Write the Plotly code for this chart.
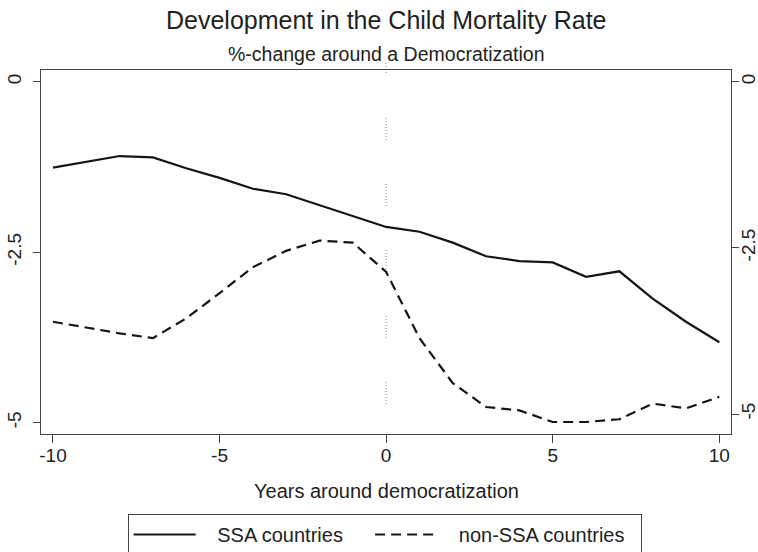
import plotly.graph_objects as go

# ---- data ----
years = list(range(-10, 11))
ssa = [-1.26, -1.17, -1.09, -1.11, -1.27, -1.41, -1.57, -1.65, -1.81, -1.98, -2.13,
       -2.20, -2.36, -2.56, -2.63, -2.65, -2.86, -2.78, -3.18, -3.52, -3.82]
non_ssa = [-3.52, -3.61, -3.69, -3.76, -3.47, -3.10, -2.72, -2.48, -2.33, -2.36, -2.79,
           -3.76, -4.42, -4.77, -4.82, -4.99, -4.99, -4.95, -4.72, -4.79, -4.62]
series_names = ["SSA countries", "non-SSA countries"]
x_ticks = [-10, -5, 0, 5, 10]
x_ticklabels = ["-10", "-5", "0", "5", "10"]
y_ticks = [0, -2.5, -5]
y_ticklabels = ["0", "-2.5", "-5"]
title_text = "Development in the Child Mortality Rate"
subtitle_text = "%-change around a Democratization"
x_title = "Years around democratization"

FONT = "Liberation Sans, Arial, Helvetica, sans-serif"
TXT = "#222222"
FRAME = "#454545"
NB = "\u00a0"

fig = go.Figure()
fig.add_trace(go.Scatter(x=years, y=ssa, mode="lines",
                         name=NB * 3 + series_names[0] + NB * 4,
                         line=dict(color="#151515", width=2.2)))
fig.add_trace(go.Scatter(x=years, y=non_ssa, mode="lines",
                         name=NB * 3 + series_names[1] + NB * 2,
                         line=dict(color="#151515", width=2.2, dash="10px,6px")))
# invisible trace so the right-hand (second) y axis is drawn
fig.add_trace(go.Scatter(x=years, y=ssa, mode="lines", yaxis="y2", showlegend=False,
                         hoverinfo="skip", line=dict(color="rgba(0,0,0,0)", width=0)))

# vertical dotted reference line at year 0
seg_first = ",".join(["1px,2px"] * 3) + ",1px,45px"
seg = ",".join(["1px,2px"] * 7) + ",1px,44px"
dash_pattern = seg_first + "," + ",".join([seg] * 6)
fig.add_shape(type="line", xref="x", yref="paper", x0=0, x1=0, y0=1.0192, y1=0,
              line=dict(color="#8a8a8a", width=1, dash=dash_pattern), layer="below")

fig.update_layout(
    width=758, height=552,
    margin=dict(l=41, r=27, t=70, b=118, autoexpand=False),
    paper_bgcolor="white", plot_bgcolor="white",
    font=dict(family=FONT, size=19, color=TXT),
    showlegend=True,
    legend=dict(orientation="h", x=0.1255, xanchor="left", y=-0.2198, yanchor="top",
                bordercolor=FRAME, borderwidth=1, bgcolor="white",
                font=dict(family=FONT, size=20, color=TXT),
                itemwidth=62),
    xaxis=dict(range=[-10.36, 10.351], tickvals=x_ticks, ticktext=x_ticklabels,
               ticks="outside", ticklen=8, ticklabelstandoff=-4,
               tickwidth=1.3, tickcolor=FRAME, showline=True, linecolor=FRAME, linewidth=1.3,
               mirror=True, showgrid=False, zeroline=False,
               tickfont=dict(family=FONT, size=19, color=TXT)),
    yaxis=dict(range=[-5.166, 0.1716], tickvals=y_ticks, ticktext=y_ticklabels,
               ticks="outside", ticklen=7, tickwidth=1.3, tickcolor=FRAME, ticklabelstandoff=4,
               showline=True, linecolor=FRAME, linewidth=1.3, showgrid=False, zeroline=False,
               tickangle=-90, tickfont=dict(family=FONT, size=19, color=TXT)),
    yaxis2=dict(range=[-5.301, 0.176], tickvals=y_ticks, ticktext=y_ticklabels,
                overlaying="y", side="right", anchor="x",
                ticks="outside", ticklen=7, tickwidth=1.3, tickcolor=FRAME, ticklabelstandoff=-7,
                showline=True, linecolor=FRAME, linewidth=1.3, showgrid=False, zeroline=False,
                tickangle=-90, tickfont=dict(family=FONT, size=19, color=TXT)),
)

fig.add_annotation(text=title_text, xref="paper", yref="paper", x=0.5007, y=1.138,
                   xanchor="center", yanchor="middle", showarrow=False,
                   font=dict(family=FONT, size=25, color=TXT))
fig.add_annotation(text=subtitle_text, xref="paper", yref="paper", x=0.5007, y=1.0426,
                   xanchor="center", yanchor="middle", showarrow=False,
                   font=dict(family=FONT, size=19.5, color=TXT))
fig.add_annotation(text=x_title, xref="paper", yref="paper", x=0.5007, y=-0.1566,
                   xanchor="center", yanchor="middle", showarrow=False,
                   font=dict(family=FONT, size=20, color=TXT))

fig.write_html("out.html", config={"displayModeBar": False},
               post_script="document.body.style.margin='0px';")
